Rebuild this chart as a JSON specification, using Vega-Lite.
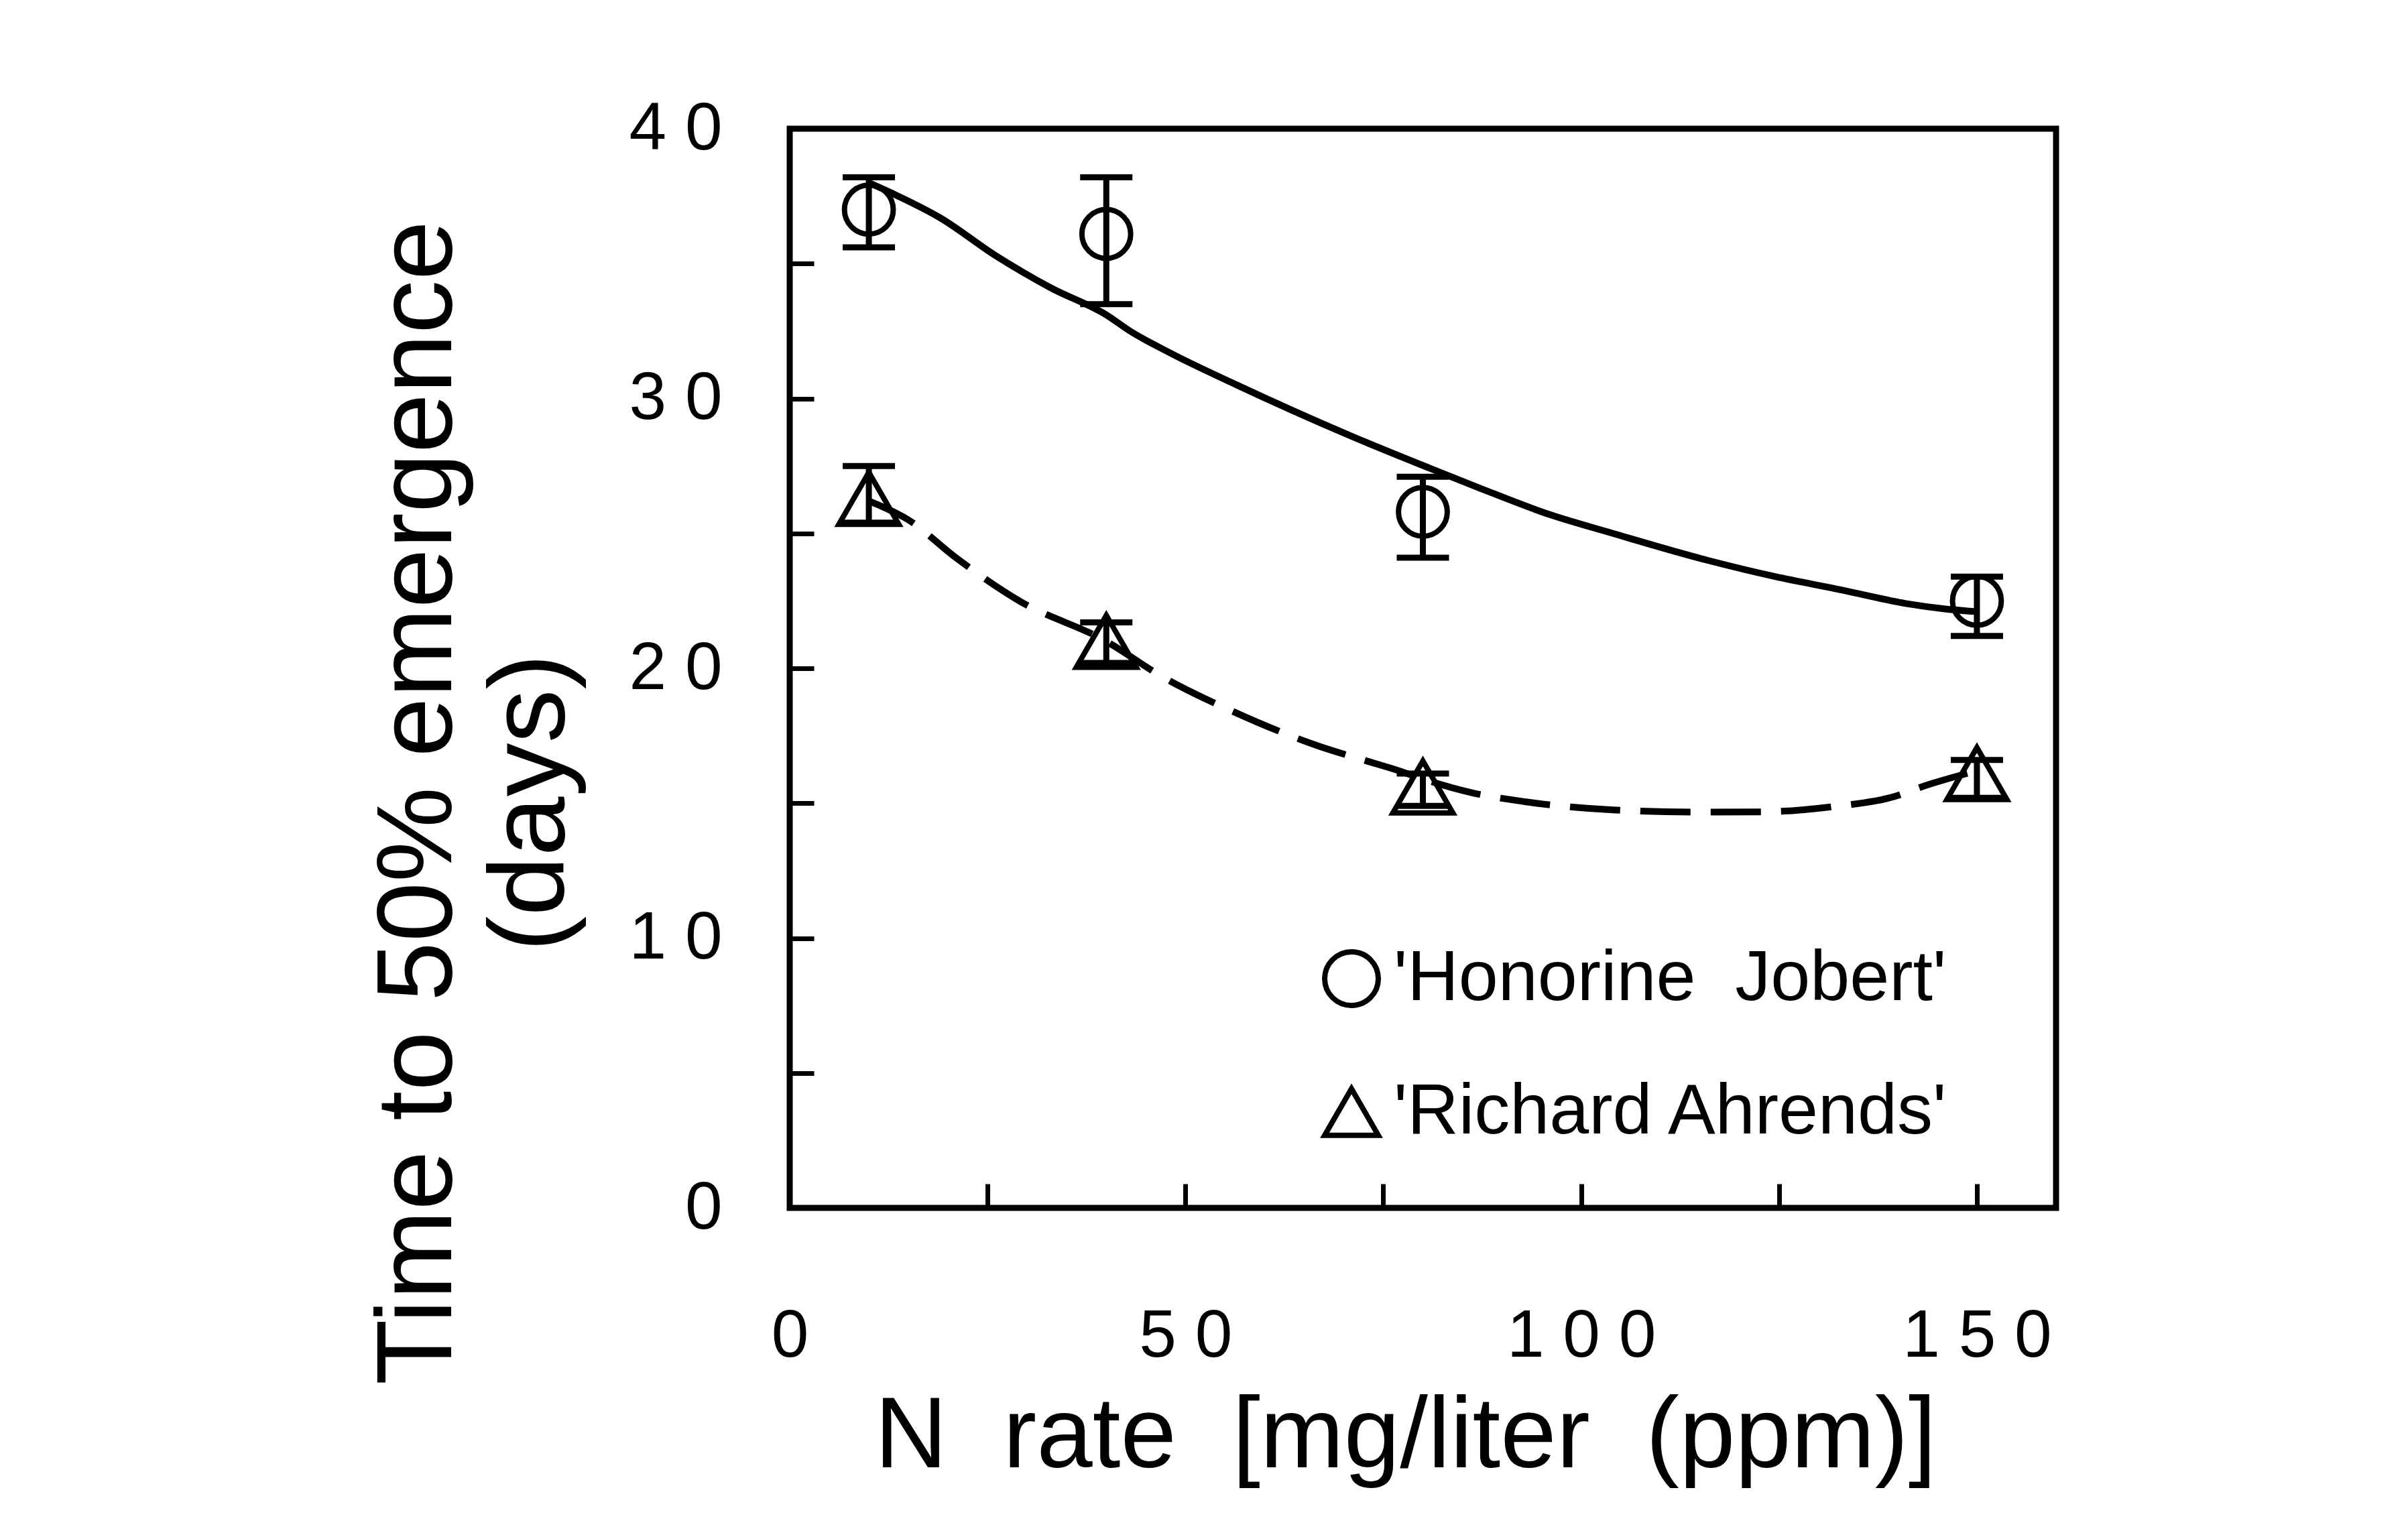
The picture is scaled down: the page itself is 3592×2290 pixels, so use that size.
{
  "$schema": "https://vega.github.io/schema/vega-lite/v6.json",
  "autosize": "none",
  "width": 1889,
  "height": 1610,
  "padding": {"left": 1178, "top": 192, "right": 525, "bottom": 488},
  "background": "white",
  "datasets": {
    "points": [
      {"cultivar": "Honorine Jobert", "N": 10, "days": 37.0, "lo": 35.6, "hi": 38.2},
      {"cultivar": "Honorine Jobert", "N": 40, "days": 36.1, "lo": 33.5, "hi": 38.2},
      {"cultivar": "Honorine Jobert", "N": 80, "days": 25.8, "lo": 24.1, "hi": 27.1},
      {"cultivar": "Honorine Jobert", "N": 150, "days": 22.5, "lo": 21.2, "hi": 23.4},
      {"cultivar": "Richard Ahrends", "N": 10, "days": 26.3, "lo": 25.4, "hi": 27.5},
      {"cultivar": "Richard Ahrends", "N": 40, "days": 21.0, "lo": 20.2, "hi": 21.7},
      {"cultivar": "Richard Ahrends", "N": 80, "days": 15.6, "lo": 14.9, "hi": 16.1},
      {"cultivar": "Richard Ahrends", "N": 150, "days": 16.1, "lo": 15.2, "hi": 16.6}
    ],
    "curves": [
      {"cultivar": "Honorine Jobert", "N": 10, "fit": 38.0},
      {"cultivar": "Honorine Jobert", "N": 13, "fit": 37.6},
      {"cultivar": "Honorine Jobert", "N": 19, "fit": 36.7},
      {"cultivar": "Honorine Jobert", "N": 26, "fit": 35.3},
      {"cultivar": "Honorine Jobert", "N": 33, "fit": 34.1},
      {"cultivar": "Honorine Jobert", "N": 40, "fit": 33.1},
      {"cultivar": "Honorine Jobert", "N": 43, "fit": 32.5},
      {"cultivar": "Honorine Jobert", "N": 48, "fit": 31.7},
      {"cultivar": "Honorine Jobert", "N": 56.5, "fit": 30.5},
      {"cultivar": "Honorine Jobert", "N": 71, "fit": 28.6},
      {"cultivar": "Honorine Jobert", "N": 81, "fit": 27.4},
      {"cultivar": "Honorine Jobert", "N": 87, "fit": 26.7},
      {"cultivar": "Honorine Jobert", "N": 96, "fit": 25.7},
      {"cultivar": "Honorine Jobert", "N": 104, "fit": 25.0},
      {"cultivar": "Honorine Jobert", "N": 116, "fit": 24.0},
      {"cultivar": "Honorine Jobert", "N": 124.5, "fit": 23.4},
      {"cultivar": "Honorine Jobert", "N": 133, "fit": 22.9},
      {"cultivar": "Honorine Jobert", "N": 141, "fit": 22.4},
      {"cultivar": "Honorine Jobert", "N": 146, "fit": 22.2},
      {"cultivar": "Honorine Jobert", "N": 150, "fit": 22.1},
      {"cultivar": "Richard Ahrends", "N": 10, "fit": 26.2},
      {"cultivar": "Richard Ahrends", "N": 15, "fit": 25.5},
      {"cultivar": "Richard Ahrends", "N": 21, "fit": 24.1},
      {"cultivar": "Richard Ahrends", "N": 29, "fit": 22.5},
      {"cultivar": "Richard Ahrends", "N": 40, "fit": 21.0},
      {"cultivar": "Richard Ahrends", "N": 47, "fit": 19.7},
      {"cultivar": "Richard Ahrends", "N": 56, "fit": 18.4},
      {"cultivar": "Richard Ahrends", "N": 67, "fit": 17.1},
      {"cultivar": "Richard Ahrends", "N": 72.5, "fit": 16.6},
      {"cultivar": "Richard Ahrends", "N": 77, "fit": 16.2},
      {"cultivar": "Richard Ahrends", "N": 80, "fit": 15.9},
      {"cultivar": "Richard Ahrends", "N": 86, "fit": 15.4},
      {"cultivar": "Richard Ahrends", "N": 93, "fit": 15.05},
      {"cultivar": "Richard Ahrends", "N": 104, "fit": 14.75},
      {"cultivar": "Richard Ahrends", "N": 115, "fit": 14.67},
      {"cultivar": "Richard Ahrends", "N": 123, "fit": 14.68},
      {"cultivar": "Richard Ahrends", "N": 132, "fit": 14.88},
      {"cultivar": "Richard Ahrends", "N": 139, "fit": 15.2},
      {"cultivar": "Richard Ahrends", "N": 144, "fit": 15.7},
      {"cultivar": "Richard Ahrends", "N": 150, "fit": 16.2}
    ]
  },
  "encoding": {
    "x": {
      "type": "quantitative",
      "scale": {"domain": [0, 160], "nice": false, "zero": false},
      "axis": {
        "title": "N\u00a0 rate\u00a0 [mg/liter\u00a0 (ppm)]",
        "values": [0, 25, 50, 75, 100, 125, 150],
        "labelExpr": "datum.value % 50 === 0 ? join(split(datum.label, ''), ' ') : ''",
        "tickSize": -36,
        "labelPadding": 178,
        "titleX": 918,
        "titleY": 386,
        "titleBaseline": "alphabetic",
        "titleFontSize": 150
      }
    },
    "y": {
      "type": "quantitative",
      "scale": {"domain": [0, 40], "nice": false, "zero": false},
      "axis": {
        "title": ["Time to 50% emergence", "(days)"],
        "values": [0, 5, 10, 15, 20, 25, 30, 35, 40],
        "labelExpr": "datum.value % 10 === 0 ? join(split(datum.label, ''), ' ') : ''",
        "tickSize": -36,
        "labelPadding": 137,
        "titleX": -506,
        "titleY": 1005,
        "titleAngle": -90,
        "titleBaseline": "alphabetic",
        "titleAlign": "center",
        "titleLineHeight": 168,
        "titleFontSize": 160
      }
    }
  },
  "layer": [
    {
      "data": {"name": "curves"},
      "transform": [{"filter": "datum.cultivar === 'Honorine Jobert'"}],
      "mark": {"type": "line", "color": "black", "strokeWidth": 10, "interpolate": "monotone"},
      "encoding": {
        "x": {"field": "N"},
        "y": {"field": "fit"}
      }
    },
    {
      "data": {"name": "curves"},
      "transform": [{"filter": "datum.cultivar === 'Richard Ahrends'"}],
      "mark": {"type": "line", "color": "black", "strokeWidth": 10, "interpolate": "monotone", "strokeDash": [75, 30]},
      "encoding": {
        "x": {"field": "N"},
        "y": {"field": "fit"}
      }
    },
    {
      "data": {"name": "points"},
      "mark": {"type": "rule", "color": "black", "strokeWidth": 9},
      "encoding": {
        "x": {"field": "N"},
        "y": {"field": "lo"},
        "y2": {"field": "hi"}
      }
    },
    {
      "data": {"name": "points"},
      "mark": {"type": "tick", "orient": "horizontal", "color": "black", "size": 78, "thickness": 9, "opacity": 1},
      "encoding": {
        "x": {"field": "N"},
        "y": {"field": "lo"}
      }
    },
    {
      "data": {"name": "points"},
      "mark": {"type": "tick", "orient": "horizontal", "color": "black", "size": 78, "thickness": 9, "opacity": 1},
      "encoding": {
        "x": {"field": "N"},
        "y": {"field": "hi"}
      }
    },
    {
      "data": {"name": "points"},
      "mark": {"type": "point", "filled": false, "color": "black", "strokeWidth": 8, "opacity": 1},
      "encoding": {
        "x": {"field": "N"},
        "y": {"field": "days"},
        "size": {
          "field": "cultivar",
          "type": "nominal",
          "scale": {"domain": ["Richard Ahrends", "Honorine Jobert"], "range": [8000, 5300]},
          "legend": null
        },
        "shape": {
          "field": "cultivar",
          "type": "nominal",
          "scale": {"domain": ["Honorine Jobert", "Richard Ahrends"], "range": ["circle", "triangle-up"]},
          "legend": {
            "title": null,
            "orient": "none",
            "legendX": 785,
            "legendY": 1215,
            "labelExpr": "\"'\" + replace(datum.label, 'Honorine ', 'Honorine\u00a0 ') + \"'\"",
            "labelFontSize": 106,
            "labelColor": "black",
            "labelOffset": 10,
            "labelLimit": 0,
            "symbolSize": 6400,
            "symbolStrokeWidth": 8,
            "symbolStrokeColor": "black",
            "symbolFillColor": "transparent",
            "symbolOpacity": 1,
            "rowPadding": 90,
            "padding": 0
          }
        }
      }
    }
  ],
  "config": {
    "font": "Liberation Sans",
    "view": {"stroke": "black", "strokeWidth": 9},
    "axis": {
      "domain": false,
      "grid": false,
      "ticks": true,
      "tickColor": "black",
      "tickWidth": 7,
      "labelFont": "Liberation Sans",
      "labelFontSize": 100,
      "labelLimit": 0,
      "labelColor": "black",
      "labelFlush": false,
      "labelOverlap": false,
      "labelBound": false,
      "titleFont": "Liberation Sans",
      "titleFontWeight": "normal",
      "titleColor": "black",
      "titleLimit": 0
    },
    "legend": {"labelFont": "Liberation Sans"}
  }
}
